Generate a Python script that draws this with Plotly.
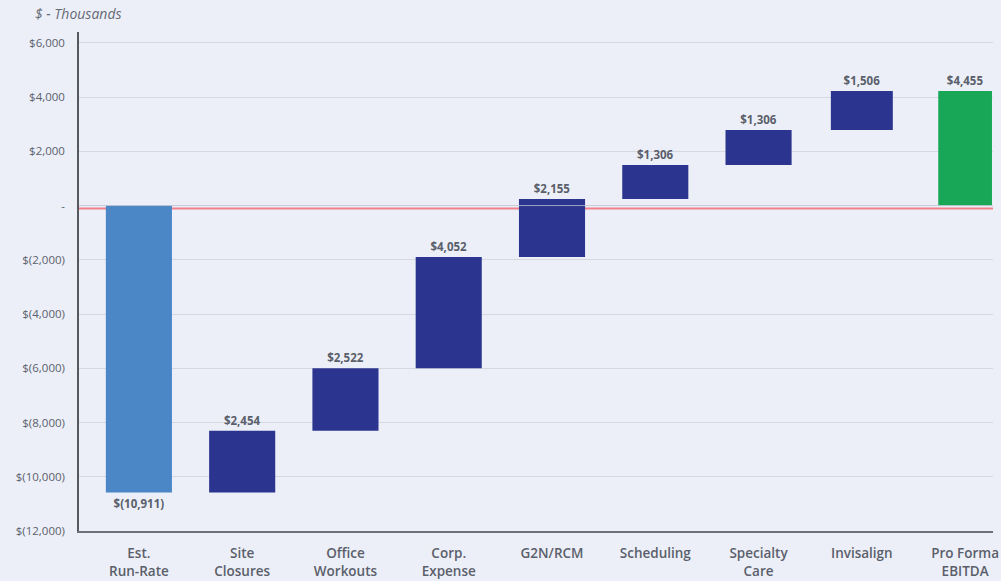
import plotly.graph_objects as go

categories = ["Est.<br>Run-Rate", "Site<br>Closures", "Office<br>Workouts", "Corp.<br>Expense",
              "G2N/RCM", "Scheduling", "Specialty<br>Care", "Invisalign", "Pro Forma<br>EBITDA"]
# bar heights as drawn in the picture ($ thousands)
bar_values = [-10581, 2273, 2308, 4100, 2144, 1256, 1285, 1444, 4229]
measures = ["relative"] * 8 + ["total"]
# printed labels
value_labels = ["$(10,911)", "$2,454", "$2,522", "$4,052", "$2,155", "$1,306", "$1,306", "$1,506", "$4,455"]

y_tickvals = [6000, 4000, 2000, 0, -2000, -4000, -6000, -8000, -10000, -12000]
y_ticktext = ["$6,000", "$4,000", "$2,000", "-", "$(2,000)", "$(4,000)", "$(6,000)",
              "$(8,000)", "$(10,000)", "$(12,000)"]
ref_line_y = -110

BG = "#ECEFF8"
GRID = "#D6D8DF"
FONT = "Open Sans"

fig = go.Figure(go.Waterfall(
    x=list(range(len(categories))),
    y=bar_values,
    measure=measures,
    text=value_labels,
    textposition="outside",
    textfont=dict(family=FONT, size=11.5, color="#5B5F6B", weight="bold"),
    cliponaxis=False,
    width=[0.64] * 7 + [0.6, 0.52],
    connector=dict(visible=False),
    decreasing=dict(marker=dict(color="#4B86C6")),
    increasing=dict(marker=dict(color="#2B358F")),
    totals=dict(marker=dict(color="#18A757")),
    hoverinfo="skip",
))

fig.add_shape(type="line", xref="paper", x0=0, x1=1, yref="y", y0=ref_line_y, y1=ref_line_y,
              line=dict(color="#F0808A", width=2), layer="below")
fig.add_shape(type="line", xref="paper", x0=0, x1=1, yref="y", y0=0, y1=0,
              line=dict(color="rgba(200,202,212,0.75)", width=1), layer="above")

fig.add_annotation(text="<i>$ - Thousands</i>", xref="paper", yref="paper",
                   x=-0.0503, y=1.038, xanchor="left", yanchor="middle", showarrow=False,
                   font=dict(family=FONT, size=14, color="#666A75"))

fig.update_layout(
    width=1001, height=581,
    margin=dict(l=79, r=8, t=32, b=50, autoexpand=False),
    paper_bgcolor=BG, plot_bgcolor=BG,
    showlegend=False,
    font=dict(family=FONT),
    xaxis=dict(
        tickmode="array", tickvals=list(range(len(categories))), ticktext=categories,
        range=[-0.58, 8.27], showgrid=False, zeroline=False, automargin=False,
        showline=True, linecolor="#6E717A", linewidth=2,
        tickfont=dict(family=FONT, size=13.5, color="#5B5F6B", weight=600),
        ticks="", ticklabelstandoff=9,
    ),
    yaxis=dict(
        range=[-12000, 6400], tickmode="array", tickvals=y_tickvals, ticktext=y_ticktext,
        showgrid=True, gridcolor=GRID, gridwidth=1, zeroline=False, automargin=False,
        showline=True, linecolor="#55585F", linewidth=1.5,
        tickfont=dict(family=FONT, size=11.5, color="#5B5F6B"),
        ticks="", ticklabelstandoff=10,
    ),
)

fig.write_html("out.html", config={"displayModeBar": False},
               post_script="document.body.style.margin='0';document.body.style.background='" + BG + "';")
